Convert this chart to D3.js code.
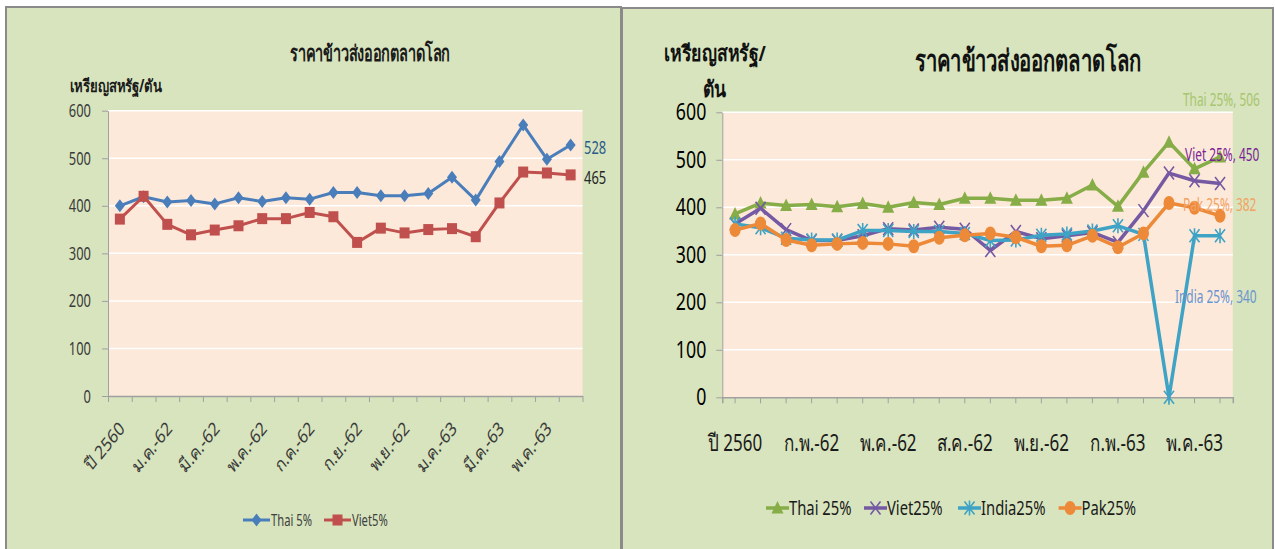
<!DOCTYPE html>
<html><head><meta charset="utf-8">
<script src="https://cdn.jsdelivr.net/npm/d3@7"></script>
<style>body{margin:0;background:#fff;} svg text{font-family:"Noto Sans","DejaVu Sans",sans-serif;}</style>
</head><body><svg id="c" width="1275" height="549"></svg>
<script>
// ---------- data ----------
const categories = ["ปี 2560","ปี 2561","ม.ค.-62","ก.พ.-62","มี.ค.-62","เม.ย.-62","พ.ค.-62","มิ.ย.-62","ก.ค.-62","ส.ค.-62","ก.ย.-62","ต.ค.-62","พ.ย.-62","ธ.ค.-62","ม.ค.-63","ก.พ.-63","มี.ค.-63","เม.ย.-63","พ.ค.-63","มิ.ย.-63"];
const thai5  = [400,419,408,411,404,417,409,417,414,428,428,421,421,426,460,412,493,570,498,528];
const viet5  = [372,420,361,339,349,358,373,373,386,377,323,353,343,350,352,335,406,471,469,465];
const thai25  = [386,409,404,406,401,408,400,410,406,419,419,415,415,419,447,402,474,537,481,506];
const viet25  = [365,398,353,330,330,340,355,352,358,354,309,349,334,340,347,326,393,472,456,450];
const india25 = [365,357,335,331,331,351,351,349,349,345,330,331,341,344,350,361,343,0,340,340];
const pak25   = [352,366,331,320,323,325,323,318,336,341,345,337,318,320,340,316,345,409,399,382];
const yTicks = [0,100,200,300,400,500,600];
const leftTickLabels  = categories.filter((d,i)=>i%2===0);
const rightTickLabels = categories.filter((d,i)=>i%3===0);
const titleText = "ราคาข้าวส่งออกตลาดโลก";
const unitText = "เหรียญสหรัฐ/ตัน";
const leftSeriesNames = ["Thai 5%","Viet5%"];
const rightSeriesNames = ["Thai 25%","Viet25%","India25%","Pak25%"];
const rightEndLabels = ["Thai 25%, 506","Viet 25%, 450","India 25%, 340","Pak 25%, 382"];
const leftEndLabels = ["528","465"];

// ---------- helpers ----------
const SX = 0.74;
const svg = d3.select("#c");
function txt(parent, x, y, s, o){
  o = o||{};
  const g = parent.append("g").attr("transform",`translate(${x},${y}) scale(${o.sx||SX},1)` + (o.rot?` rotate(${o.rot})`:""));
  return g.append("text").text(s).attr("font-size",o.size||14).attr("fill",o.fill||"#000")
    .attr("text-anchor",o.anchor||"start").attr("font-weight",o.weight||"normal").attr("dy",o.dy||"0.35em");
}
function marker(g, type, color){
  if(type==="diamond") g.append("path").attr("d","M0,-6.5L5,0L0,6.5L-5,0Z").attr("fill",color);
  else if(type==="square") g.append("rect").attr("x",-5).attr("y",-5.5).attr("width",10).attr("height",11).attr("fill",color);
  else if(type==="triangle") g.append("path").attr("d","M0,-7L6,5.5L-6,5.5Z").attr("fill",color);
  else if(type==="x") g.append("path").attr("d","M-5,-6.5L5,6.5M-5,6.5L5,-6.5").attr("stroke",color).attr("stroke-width",1.6).attr("fill","none");
  else if(type==="star") g.append("path").attr("d","M-5,-6.5L5,6.5M-5,6.5L5,-6.5M0,-7.5L0,7.5").attr("stroke",color).attr("stroke-width",1.6).attr("fill","none");
  else if(type==="circle") g.append("ellipse").attr("rx",5.5).attr("ry",7).attr("fill",color);
}

// ---------- panels ----------
svg.append("rect").attr("x",6).attr("y",7).attr("width",615).attr("height",570).attr("fill","#d7e4bd").attr("stroke","#8a8a8a").attr("stroke-width",2);
svg.append("rect").attr("x",622).attr("y",8).attr("width",651).attr("height",570).attr("fill","#d7e4bd").attr("stroke","#8a8a8a").attr("stroke-width",2);

// ---------- LEFT CHART ----------
(function(){
  const L = {x0:108,x1:582.5,y0:396,y1:110.7};
  const x = d3.scaleBand().domain(categories).range([L.x0,L.x1]);
  const xi = d3.scaleLinear().domain([0,categories.length]).range([L.x0,L.x1]);
  const y = d3.scaleLinear().domain([0,600]).range([L.y0,L.y1]);
  const cx = c => x(c)+x.bandwidth()/2;
  svg.append("rect").attr("x",L.x0).attr("y",L.y1).attr("width",L.x1-L.x0).attr("height",L.y0-L.y1).attr("fill","#fde9d9");
  svg.append("g").selectAll("line").data(yTicks.filter(v=>v>0)).join("line")
    .attr("x1",L.x0).attr("x2",L.x1).attr("y1",d=>y(d)).attr("y2",d=>y(d)).attr("stroke","#fff").attr("stroke-width",1.5);
  const ay = svg.append("g").attr("transform",`translate(${L.x0},0)`).call(d3.axisLeft(y).tickValues(yTicks).tickSize(6).tickSizeOuter(0));
  ay.select(".domain").attr("stroke","#a0a0a0");
  ay.selectAll(".tick line").attr("stroke","#a0a0a0");
  ay.selectAll(".tick text").attr("font-size",19).attr("fill","#3a3a3a").attr("x",-17/0.68).attr("transform",`scale(0.68,1)`).attr("font-family","Noto Sans");
  const ax = svg.append("g").attr("transform",`translate(0,${L.y0})`).call(d3.axisBottom(xi).tickValues(d3.range(categories.length+1)).tickSize(6).tickSizeOuter(0).tickFormat(""));
  ax.select(".domain").attr("stroke","#a0a0a0").attr("stroke-width",1.5);
  ax.selectAll(".tick line").attr("stroke","#a0a0a0");
  leftTickLabels.forEach(c=>{
    txt(svg, cx(c)+2, L.y0+29, c, {size:19, anchor:"end", rot:-45, fill:"#3a3a3a", sx:0.8});
  });
  // title & unit
  txt(svg, 370, 53, titleText, {size:22, anchor:"middle", fill:"#1a1a1a", weight:600, sx:0.66});
  txt(svg, 70, 86, unitText, {size:17, weight:"bold", fill:"#1a1a1a", sx:0.77});
  // series
  const sers = [{v:thai5,c:"#4a7ebb",m:"diamond"},{v:viet5,c:"#c0504d",m:"square"}];
  sers.forEach(s=>{
    const line = d3.line().x((d,i)=>cx(categories[i])).y(d=>y(d));
    svg.append("path").attr("d",line(s.v)).attr("fill","none").attr("stroke",s.c).attr("stroke-width",3).attr("stroke-linejoin","round");
    s.v.forEach((d,i)=>{ marker(svg.append("g").attr("transform",`translate(${cx(categories[i])},${y(d)})`), s.m, s.c); });
  });
  txt(svg, 584, 147, leftEndLabels[0], {size:19, fill:"#2b5b8a", sx:0.68});
  txt(svg, 584, 177, leftEndLabels[1], {size:19, fill:"#262626", sx:0.68});
  // legend
  const lg = [{x:243,c:"#4a7ebb",m:"diamond"},{x:324,c:"#c0504d",m:"square"}];
  lg.forEach((l,i)=>{
    svg.append("line").attr("x1",l.x).attr("x2",l.x+27).attr("y1",520).attr("y2",520).attr("stroke",l.c).attr("stroke-width",3);
    marker(svg.append("g").attr("transform",`translate(${l.x+13.5},520)`), l.m, l.c);
    txt(svg, l.x+28, 520, leftSeriesNames[i], {size:17, fill:"#404040", sx:0.66});
  });
})();

// ---------- RIGHT CHART ----------
(function(){
  const R = {x0:722.3,x1:1232.8,y0:397.3,y1:112.3};
  const x = d3.scaleBand().domain(categories).range([R.x0,R.x1]);
  const y = d3.scaleLinear().domain([0,600]).range([R.y0,R.y1]);
  const cx = c => x(c)+x.bandwidth()/2;
  svg.append("rect").attr("x",R.x0).attr("y",R.y1).attr("width",R.x1-R.x0).attr("height",R.y0-R.y1).attr("fill","#fde9d9");
  svg.append("g").selectAll("line").data(yTicks.filter(v=>v>0)).join("line")
    .attr("x1",R.x0).attr("x2",R.x1).attr("y1",d=>y(d)).attr("y2",d=>y(d)).attr("stroke","#fff").attr("stroke-width",1.5);
  const ay = svg.append("g").attr("transform",`translate(${R.x0},0)`).call(d3.axisLeft(y).tickValues(yTicks).tickSize(6).tickSizeOuter(0));
  ay.select(".domain").attr("stroke","#a0a0a0");
  ay.selectAll(".tick line").attr("stroke","#a0a0a0");
  ay.selectAll(".tick text").attr("font-size",24).attr("fill","#000").attr("x",-16/SX).attr("transform",`scale(${SX},1)`).attr("font-family","Noto Sans");
  const ax = svg.append("g").attr("transform",`translate(0,${R.y0})`).call(d3.axisBottom(x).tickSize(6).tickSizeOuter(6).tickFormat(""));
  ax.select(".domain").attr("stroke","#a0a0a0").attr("stroke-width",1.5);
  ax.selectAll(".tick line").attr("stroke","#a0a0a0");
  rightTickLabels.forEach(c=>{
    txt(svg, cx(c), 443, c, {size:23, anchor:"middle", fill:"#1a1a1a"});
  });
  txt(svg, 1028, 60, titleText, {size:30, anchor:"middle", weight:"bold", fill:"#111", sx:0.675});
  txt(svg, 664, 53, "เหรียญสหรัฐ/", {size:22, weight:"bold", fill:"#111", sx:0.8});
  txt(svg, 703, 89, "ตัน", {size:22, weight:"bold", fill:"#111", sx:0.8});
  const sers = [
    {v:thai25,c:"#86ad47",m:"triangle"},
    {v:viet25,c:"#7559a3",m:"x"},
    {v:india25,c:"#3ea3c5",m:"star"},
    {v:pak25,c:"#ec8a3a",m:"circle"}];
  sers.forEach(s=>{
    const line = d3.line().x((d,i)=>cx(categories[i])).y(d=>y(d));
    svg.append("path").attr("d",line(s.v)).attr("fill","none").attr("stroke",s.c).attr("stroke-width",3.5).attr("stroke-linejoin","round");
    s.v.forEach((d,i)=>{ marker(svg.append("g").attr("transform",`translate(${cx(categories[i])},${y(d)})`), s.m, s.c); });
  });
  const lsx = 0.66;
  txt(svg, 1183, 100, rightEndLabels[0], {size:18, fill:"#a8c56f", sx:lsx});
  txt(svg, 1185, 155, rightEndLabels[1], {size:18, fill:"#7a1f96", sx:lsx});
  txt(svg, 1175, 297, rightEndLabels[2], {size:18, fill:"#6a94cf", sx:lsx});
  txt(svg, 1183, 205, rightEndLabels[3], {size:18, fill:"#f3a264", sx:lsx});
  // legend
  const lx = [766,864,958,1058.6];
  sers.forEach((s,i)=>{
    svg.append("line").attr("x1",lx[i]).attr("x2",lx[i]+23).attr("y1",508).attr("y2",508).attr("stroke",s.c).attr("stroke-width",3.5);
    marker(svg.append("g").attr("transform",`translate(${lx[i]+11.5},508)`), s.m, s.c);
    txt(svg, lx[i]+23, 508, rightSeriesNames[i], {size:20, fill:"#1a1a1a"});
  });
})();
</script></body></html>
